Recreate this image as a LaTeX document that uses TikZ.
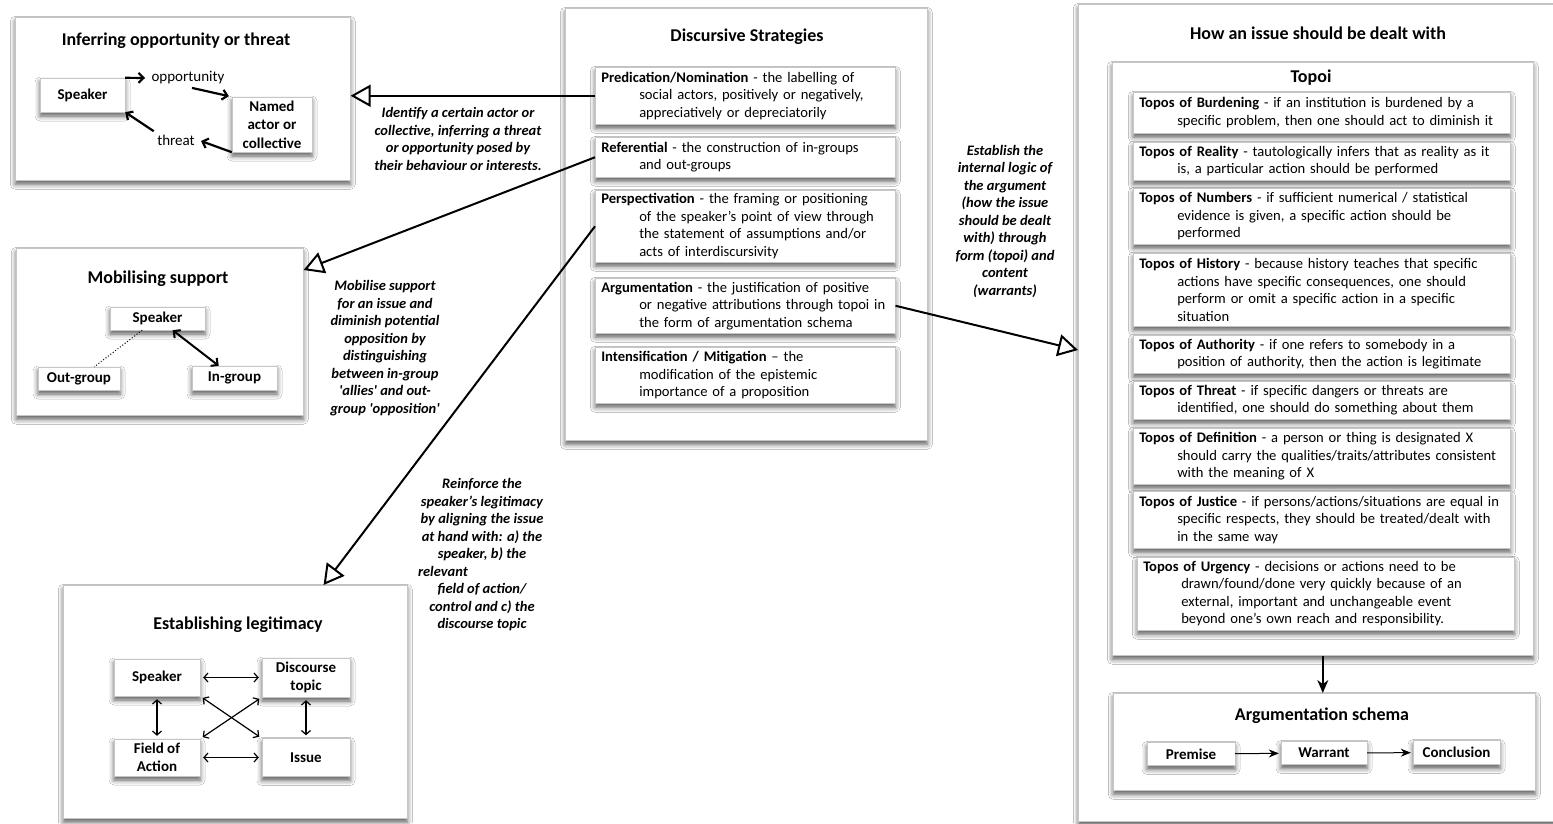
\documentclass[tikz,border=0pt]{standalone}
\usepackage{fontspec}
\setmainfont{Carlito}
\usetikzlibrary{arrows.meta,shadows.blur}

\newcommand\hgap{\hspace*{38pt}}

\tikzset{
  softshadow/.style={blur shadow={shadow xshift=0pt, shadow yshift=-4pt,
      shadow blur radius=5pt, shadow opacity=65}},
  panel/.style={draw=gray!45, fill=white, line width=0.6pt, softshadow,
      anchor=north west, inner sep=0pt},
  card/.style={draw=gray!45, fill=white, line width=0.5pt, softshadow,
      align=left, anchor=north west, inner ysep=1.5pt,
      font=\fontsize{14.6}{17.5}\selectfont},
  strat/.style={card, text width=288pt, inner xsep=6pt},
  topos/.style={card, text width=365pt, inner xsep=6pt},
  box/.style={draw=gray!45, fill=white, softshadow, align=center, inner sep=2pt,
      font=\bfseries\fontsize{15}{18.5}\selectfont},
  heading/.style={font=\bfseries\fontsize{18}{21}\selectfont},
  note/.style={align=center, font=\bfseries\itshape\fontsize{14.5}{17.5}\selectfont},
  bigarrow/.style={line width=2pt, -{Triangle[open, length=20pt, width=22pt]}},
  fatarrow/.style={line width=2.2pt, -{Straight Barb[length=5pt, width=10pt]}},
  fatboth/.style={line width=2pt,
      {Straight Barb[length=5pt, width=10pt]}-{Straight Barb[length=5pt, width=10pt]}},
  twoway/.style={line width=1.2pt, shorten <=3pt, shorten >=3pt,
      {Straight Barb[length=4pt, width=9pt]}-{Straight Barb[length=4pt, width=9pt]}},
  flow/.style={line width=1pt, shorten >=2pt, -{Stealth[length=10pt, width=8pt]}},
}

\begin{document}
\begin{tikzpicture}[x=1pt, y=-1pt]
\path[fill=white, use as bounding box] (0,0) rectangle (1553,823);

% outer panels
\node[panel, minimum width=335pt, minimum height=163pt] (infer) at (15,17) {};
\node[panel, minimum width=287pt, minimum height=167pt] (mob) at (16,248) {};
\node[panel, minimum width=344pt, minimum height=233pt] (legit) at (63,585) {};
\node[panel, minimum width=362pt, minimum height=432pt] (disc) at (565,8) {};
\node[panel, minimum width=500pt, minimum height=817pt] (how) at (1078,4) {};
\node[panel, minimum width=421pt, minimum height=593pt] (topoi) at (1112,62) {};
\node[panel, minimum width=422pt, minimum height=97pt] (schema) at (1113,693) {};

\node[heading] (infertitle) at (176,41) {Inferring opportunity or threat};
\node[heading] (mobtitle) at (158,279) {Mobilising support};
\node[heading] (legittitle) at (238,625) {Establishing legitimacy};
\node[heading] (disctitle) at (747,37) {Discursive Strategies};
\node[heading] (howtitle) at (1318,33) {How an issue should be dealt with};
\node[heading] (topoititle) at (1311,78) {Topoi};
\node[heading] (schematitle) at (1322,716) {Argumentation schema};

% inferring opportunity or threat
\node[box, minimum width=85pt, minimum height=34pt] (spkA) at (82.5,95) {Speaker};
\node[box, minimum width=80pt, minimum height=55pt] (actor) at (272,124.5) {Named\\actor or\\collective};
\node[font=\fontsize{15}{18}\selectfont] (opp) at (188,78) {opportunity};
\node[font=\fontsize{15}{18}\selectfont] (thr) at (176,140) {threat};
\draw[fatarrow, shorten >=3pt] (spkA.north east) -- (opp.west);
\draw[fatarrow, shorten >=3pt] ([xshift=4pt]opp.south) -- (actor.north west);
\draw[fatarrow, shorten >=3pt] (actor.south west) -- (thr.east);
\draw[fatarrow] (thr.north west) -- (spkA.south east);

% mobilising support
\node[box, minimum width=95pt, minimum height=23pt] (mspk) at (157.5,318.5) {Speaker};
\node[box, minimum width=82pt, minimum height=23pt] (mout) at (79,378.5) {Out-group};
\node[box, minimum width=85pt, minimum height=24pt] (min) at (234.5,378) {In-group};
\draw[dotted, line width=1pt] (mspk) -- (mout);
\draw[fatboth] (mspk) -- (min);

% establishing legitimacy
\node[box, minimum width=86pt, minimum height=37pt] (lspk) at (157,677.5) {Speaker};
\node[box, minimum width=88pt, minimum height=39pt] (ltop) at (306,677.5) {Discourse\\topic};
\node[box, minimum width=86pt, minimum height=37pt] (lfld) at (157,757.5) {Field of\\Action};
\node[box, minimum width=88pt, minimum height=38pt] (liss) at (306,757.5) {Issue};
\draw[twoway] (lspk) -- (ltop);
\draw[twoway] (lfld) -- (liss);
\draw[twoway] (lspk) -- (lfld);
\draw[twoway] (ltop) -- (liss);
\draw[twoway] (lspk.south east) -- (liss.north west);
\draw[twoway] (ltop.south west) -- (lfld.north east);

% discursive strategies
\node[strat, minimum height=57pt] (pred) at (595,67)
  {\textbf{Predication/Nomination} -  the labelling of\\
   \hgap social actors, positively or negatively,\\
   \hgap appreciatively or depreciatorily};
\node[strat, minimum height=40pt] (ref) at (595,137)
  {\textbf{Referential} - the construction of in-groups\\
   \hgap and out-groups};
\node[strat, minimum height=72pt] (persp) at (595,190)
  {\textbf{Perspectivation} - the framing or positioning\\
   \hgap of the speaker's point of view through\\
   \hgap the statement of assumptions and/or\\
   \hgap acts of interdiscursivity};
\node[strat, minimum height=55pt] (argu) at (595,278)
  {\textbf{Argumentation} - the justification of positive\\
   \hgap or negative attributions through topoi in\\
   \hgap the form of argumentation schema};
\node[strat, minimum height=56pt] (inten) at (595,347)
  {\textbf{Intensification / Mitigation} -- the\\
   \hgap modification of the epistemic\\
   \hgap importance of a proposition};

% topoi
\node[topos, minimum height=41pt] (bur) at (1133,92)
  {\textbf{Topos of Burdening} - if an institution is burdened by a\\
   \hgap specific problem, then one should act to diminish it};
\node[topos, minimum height=38pt] (rea) at (1133,142)
  {\textbf{Topos of Reality} - tautologically infers that as reality as it\\
   \hgap is, a particular action should be performed};
\node[topos, minimum height=56pt] (num) at (1133,188)
  {\textbf{Topos of Numbers} - if sufficient numerical / statistical\\
   \hgap evidence is given, a specific action should be\\
   \hgap performed};
\node[topos, minimum height=73pt] (his) at (1133,253)
  {\textbf{Topos of History} - because history teaches that specific\\
   \hgap actions have specific consequences, one should\\
   \hgap perform or omit a specific action in a specific\\
   \hgap situation};
\node[topos, minimum height=38pt] (aut) at (1133,335)
  {\textbf{Topos of Authority} - if one refers to somebody in a\\
   \hgap position of authority, then the action is legitimate};
\node[topos, minimum height=38pt] (thrt) at (1133,381)
  {\textbf{Topos of Threat} - if specific dangers or threats are\\
   \hgap identified, one should do something about them};
\node[topos, minimum height=56pt] (def) at (1133,428)
  {\textbf{Topos of Definition} - a person or thing is designated X\\
   \hgap should carry the qualities/traits/attributes consistent\\
   \hgap with the meaning of X};
\node[topos, minimum height=57pt] (jus) at (1133,491)
  {\textbf{Topos of Justice} - if persons/actions/situations are equal in\\
   \hgap specific respects, they should be treated/dealt with\\
   \hgap in the same way};
\node[topos, minimum height=73pt] (urg) at (1137,557)
  {\textbf{Topos of Urgency} - decisions or actions need to be\\
   \hgap drawn/found/done very quickly because of an\\
   \hgap external, important and unchangeable event\\
   \hgap beyond one's own reach and responsibility.};

% argumentation schema
\node[box, minimum width=88pt, minimum height=23pt] (prem) at (1191,754) {Premise};
\node[box, minimum width=86pt, minimum height=23pt] (warr) at (1324,753) {Warrant};
\node[box, minimum width=87pt, minimum height=24pt] (conc) at (1456.5,752.5) {Conclusion};
\draw[flow] (prem) -- (warr);
\draw[flow] (warr) -- (conc);
\draw[line width=1.5pt, -{Stealth[length=13pt, width=11pt]}] (topoi.south) -- (topoi.south |- schema.north);

% notes beside the big arrows
\node[note] (note1) at (458,139) {Identify a certain actor or\\collective, inferring a threat\\or opportunity posed by\\their behaviour or interests.};
\node[note] (note2) at (385,348) {Mobilise support\\for an issue and\\diminish potential\\opposition by\\distinguishing\\between in-group\\\textquotesingle allies\textquotesingle{} and out-\\group \textquotesingle opposition\textquotesingle};
\node[note] (note3) at (482,555) {Reinforce the\\speaker's legitimacy\\by aligning the issue\\at hand with: a) the\\speaker, b) the\\\makebox[128pt][l]{relevant}\\field of action/\\control and c) the\\discourse topic};
\node[note] (note4) at (1005,221) {Establish the\\internal logic of\\the argument\\(how the issue\\should be dealt\\with) through\\form (topoi) and\\content\\(warrants)};

% big arrows
\draw[bigarrow] (pred.west) -- (pred.west -| infer.east);
\draw[bigarrow] (ref.west) -- ([yshift=-22pt]mob.north east);
\draw[bigarrow] (persp.west) -- ([xshift=-84pt]legit.north east);
\draw[bigarrow] (argu.east) -- ([yshift=-346pt]how.north west);

\end{tikzpicture}
\end{document}
